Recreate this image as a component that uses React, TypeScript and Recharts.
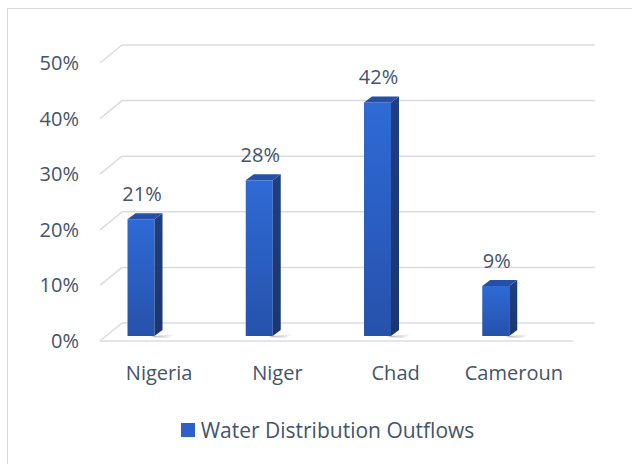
import React from "react";
import {
  BarChart,
  Bar,
  XAxis,
  YAxis,
  CartesianGrid,
  Legend,
  LabelList,
} from "recharts";

const countries = ["Nigeria", "Niger", "Chad", "Cameroun"];
const outflowShares = [0.21, 0.28, 0.42, 0.09];
const percentTicks = [0, 0.1, 0.2, 0.3, 0.4, 0.5];

const data = countries.map((country, i) => ({
  country,
  outflow: outflowShares[i],
}));

const TEXT = "#44546A";
const GRID = "#D9DCE2";
const FONT = "'Open Sans', sans-serif";

// 3d look: back wall offset and bar inset
const WALL_DX = 22;
const WALL_DY = 18;
const BAR_DY = 5;
const BAR_W = 27;
const SIDE_DX = 8;
const SIDE_DY = 6;
const FLOOR_Y = 341;

const pct = (v: number) => `${Math.round(v * 100)}%`;

function GridLine(props: any) {
  const { x1, x2, y1 } = props;
  const floor = Math.abs(y1 - FLOOR_Y) < 1;
  return (
    <g key={props.key}>
      <line x1={x1} y1={y1} x2={x1 + WALL_DX} y2={y1 - WALL_DY} stroke={GRID} strokeWidth={1.5} />
      <line x1={x1 + WALL_DX} y1={y1 - WALL_DY} x2={x2 + WALL_DX} y2={y1 - WALL_DY} stroke={GRID} strokeWidth={1.5} />
      {floor && <line x1={x1} y1={y1} x2={x2} y2={y1} stroke={GRID} strokeWidth={1.5} />}
    </g>
  );
}

function barBox(x: number, y: number, width: number, height: number) {
  const cx = x + width / 2;
  const left = cx - 32;
  const right = left + BAR_W;
  const bottom = y + height - BAR_DY;
  const top = bottom - height;
  return { left, right, top, bottom };
}

function Bar3D(props: any) {
  const { x, y, width, height } = props;
  const { left, right, top, bottom } = barBox(x, y, width, height);
  return (
    <g>
      <polygon
        points={`${right},${bottom} ${right + SIDE_DX + 14},${bottom - 2} ${right + SIDE_DX + 4},${bottom + 2} ${right - 4},${bottom + 1}`}
        fill="url(#shadowGrad)"
      />
      <rect x={left} y={top} width={BAR_W} height={bottom - top} fill="url(#frontGrad)" />
      <polygon
        points={`${right},${top} ${right + SIDE_DX},${top - SIDE_DY} ${right + SIDE_DX},${bottom - SIDE_DY} ${right},${bottom}`}
        fill="url(#sideGrad)"
      />
      <polygon
        points={`${left},${top} ${left + SIDE_DX},${top - SIDE_DY} ${right + SIDE_DX},${top - SIDE_DY} ${right},${top}`}
        fill="#2650A6"
      />
    </g>
  );
}

function ValueLabel(props: any) {
  const { x, y, width, height, value } = props;
  const { left, top } = barBox(x, y, width, height);
  return (
    <text
      x={left + BAR_W / 2 + 1}
      y={top - 18}
      textAnchor="middle"
      fill={TEXT}
      fontFamily={FONT}
      fontSize={20}
    >
      {pct(value)}
    </text>
  );
}

function YTick(props: any) {
  const { y, payload } = props;
  return (
    <text x={79} y={y + 7} textAnchor="end" fill={TEXT} fontFamily={FONT} fontSize={20}>
      {pct(payload.value)}
    </text>
  );
}

function XTick(props: any) {
  const { x, payload } = props;
  return (
    <text x={x} y={FLOOR_Y + 39} textAnchor="middle" fill={TEXT} fontFamily={FONT} fontSize={20}>
      {payload.value}
    </text>
  );
}

function LegendBox() {
  return (
    <div
      style={{
        display: "flex",
        alignItems: "center",
        justifyContent: "center",
        paddingLeft: 42,
        height: 24,
        fontFamily: FONT,
        fontSize: 21,
        color: TEXT,
      }}
    >
      <span style={{ width: 14, height: 14, background: "#2D5FC6", marginRight: 6, display: "inline-block" }} />
      <span>Water Distribution Outflows</span>
    </div>
  );
}

export default function App() {
  return (
    <div
      style={{
        position: "absolute",
        left: 0,
        top: 0,
        width: 632,
        height: 464,
        background: "#fff",
        overflow: "hidden",
      }}
    >
      <div
        style={{
          position: "absolute",
          left: 7,
          top: 8,
          width: 640,
          height: 470,
          borderTop: "1.5px solid #D9D9D9",
          borderLeft: "1.5px solid #D9D9D9",
        }}
      />
      <BarChart
        width={632}
        height={464}
        data={data}
        margin={{ top: 63, right: 59, left: 40, bottom: 22 }}
        style={{ position: "absolute", left: 0, top: 0 }}
      >
        <defs>
          <linearGradient id="frontGrad" x1="0" y1="0" x2="0" y2="1">
            <stop offset="0%" stopColor="#2F6AD6" />
            <stop offset="100%" stopColor="#2552AB" />
          </linearGradient>
          <linearGradient id="sideGrad" x1="0" y1="0" x2="0" y2="1">
            <stop offset="0%" stopColor="#1F3F80" />
            <stop offset="100%" stopColor="#1B366F" />
          </linearGradient>
          <linearGradient id="shadowGrad" x1="0" y1="0" x2="1" y2="0">
            <stop offset="0%" stopColor="#6B6B6B" stopOpacity={0.55} />
            <stop offset="100%" stopColor="#9A9A9A" stopOpacity={0} />
          </linearGradient>
        </defs>
        <CartesianGrid vertical={false} horizontal={GridLine} />
        <XAxis
          dataKey="country"
          axisLine={false}
          tickLine={false}
          height={77}
          tick={XTick}
          interval={0}
        />
        <YAxis
          domain={[0, 0.5]}
          ticks={percentTicks}
          axisLine={false}
          tickLine={false}
          width={60}
          tick={YTick}
        />
        <Legend verticalAlign="bottom" height={24} content={LegendBox} />
        <Bar dataKey="outflow" name="Water Distribution Outflows" barSize={BAR_W} shape={Bar3D} isAnimationActive={false}>
          <LabelList dataKey="outflow" content={ValueLabel} />
        </Bar>
      </BarChart>
    </div>
  );
}
